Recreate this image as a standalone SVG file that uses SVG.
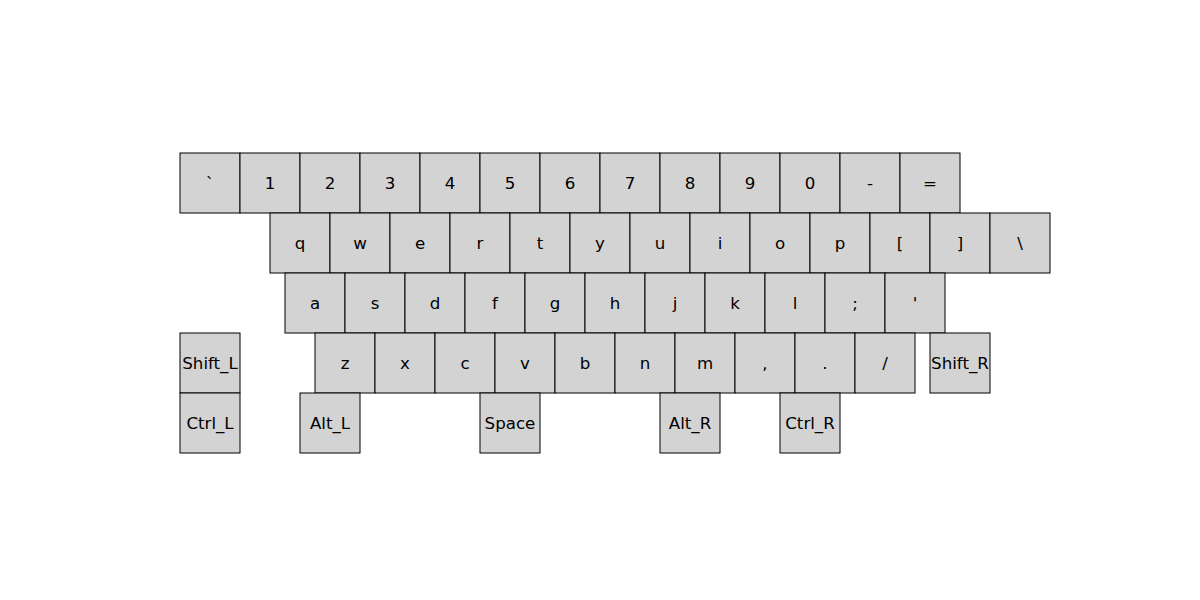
<svg xmlns="http://www.w3.org/2000/svg" width="1200" height="600" viewBox="0 0 1200 600">
<style>
rect{fill:#d3d3d3;stroke:#000;stroke-width:1}
text{font-family:"DejaVu Sans",sans-serif;font-size:16.67px;text-anchor:middle;dominant-baseline:central;fill:#000}
</style>
<rect x="0" y="0" width="1200" height="600" style="fill:#fff;stroke:none"/>
<g id="row1">
<g id="k_grave"><rect x="180" y="153" width="60" height="60"/><text x="210" y="183">`</text></g>
<g id="k_1"><rect x="240" y="153" width="60" height="60"/><text x="270" y="183">1</text></g>
<g id="k_2"><rect x="300" y="153" width="60" height="60"/><text x="330" y="183">2</text></g>
<g id="k_3"><rect x="360" y="153" width="60" height="60"/><text x="390" y="183">3</text></g>
<g id="k_4"><rect x="420" y="153" width="60" height="60"/><text x="450" y="183">4</text></g>
<g id="k_5"><rect x="480" y="153" width="60" height="60"/><text x="510" y="183">5</text></g>
<g id="k_6"><rect x="540" y="153" width="60" height="60"/><text x="570" y="183">6</text></g>
<g id="k_7"><rect x="600" y="153" width="60" height="60"/><text x="630" y="183">7</text></g>
<g id="k_8"><rect x="660" y="153" width="60" height="60"/><text x="690" y="183">8</text></g>
<g id="k_9"><rect x="720" y="153" width="60" height="60"/><text x="750" y="183">9</text></g>
<g id="k_0"><rect x="780" y="153" width="60" height="60"/><text x="810" y="183">0</text></g>
<g id="k_minus"><rect x="840" y="153" width="60" height="60"/><text x="870" y="183">-</text></g>
<g id="k_equal"><rect x="900" y="153" width="60" height="60"/><text x="930" y="183">=</text></g>
</g>
<g id="row2">
<g id="k_q"><rect x="270" y="213" width="60" height="60"/><text x="300" y="243">q</text></g>
<g id="k_w"><rect x="330" y="213" width="60" height="60"/><text x="360" y="243">w</text></g>
<g id="k_e"><rect x="390" y="213" width="60" height="60"/><text x="420" y="243">e</text></g>
<g id="k_r"><rect x="450" y="213" width="60" height="60"/><text x="480" y="243">r</text></g>
<g id="k_t"><rect x="510" y="213" width="60" height="60"/><text x="540" y="243">t</text></g>
<g id="k_y"><rect x="570" y="213" width="60" height="60"/><text x="600" y="243">y</text></g>
<g id="k_u"><rect x="630" y="213" width="60" height="60"/><text x="660" y="243">u</text></g>
<g id="k_i"><rect x="690" y="213" width="60" height="60"/><text x="720" y="243">i</text></g>
<g id="k_o"><rect x="750" y="213" width="60" height="60"/><text x="780" y="243">o</text></g>
<g id="k_p"><rect x="810" y="213" width="60" height="60"/><text x="840" y="243">p</text></g>
<g id="k_lbr"><rect x="870" y="213" width="60" height="60"/><text x="900" y="243">[</text></g>
<g id="k_rbr"><rect x="930" y="213" width="60" height="60"/><text x="960" y="243">]</text></g>
<g id="k_bslash"><rect x="990" y="213" width="60" height="60"/><text x="1020" y="243">\</text></g>
</g>
<g id="row3">
<g id="k_a"><rect x="285" y="273" width="60" height="60"/><text x="315" y="303">a</text></g>
<g id="k_s"><rect x="345" y="273" width="60" height="60"/><text x="375" y="303">s</text></g>
<g id="k_d"><rect x="405" y="273" width="60" height="60"/><text x="435" y="303">d</text></g>
<g id="k_f"><rect x="465" y="273" width="60" height="60"/><text x="495" y="303">f</text></g>
<g id="k_g"><rect x="525" y="273" width="60" height="60"/><text x="555" y="303">g</text></g>
<g id="k_h"><rect x="585" y="273" width="60" height="60"/><text x="615" y="303">h</text></g>
<g id="k_j"><rect x="645" y="273" width="60" height="60"/><text x="675" y="303">j</text></g>
<g id="k_k"><rect x="705" y="273" width="60" height="60"/><text x="735" y="303">k</text></g>
<g id="k_l"><rect x="765" y="273" width="60" height="60"/><text x="795" y="303">l</text></g>
<g id="k_semi"><rect x="825" y="273" width="60" height="60"/><text x="855" y="303">;</text></g>
<g id="k_quote"><rect x="885" y="273" width="60" height="60"/><text x="915" y="303">'</text></g>
</g>
<g id="row4">
<g id="k_shift_l"><rect x="180" y="333" width="60" height="60"/><text x="210" y="363">Shift_L</text></g>
<g id="k_z"><rect x="315" y="333" width="60" height="60"/><text x="345" y="363">z</text></g>
<g id="k_x"><rect x="375" y="333" width="60" height="60"/><text x="405" y="363">x</text></g>
<g id="k_c"><rect x="435" y="333" width="60" height="60"/><text x="465" y="363">c</text></g>
<g id="k_v"><rect x="495" y="333" width="60" height="60"/><text x="525" y="363">v</text></g>
<g id="k_b"><rect x="555" y="333" width="60" height="60"/><text x="585" y="363">b</text></g>
<g id="k_n"><rect x="615" y="333" width="60" height="60"/><text x="645" y="363">n</text></g>
<g id="k_m"><rect x="675" y="333" width="60" height="60"/><text x="705" y="363">m</text></g>
<g id="k_comma"><rect x="735" y="333" width="60" height="60"/><text x="765" y="363">,</text></g>
<g id="k_period"><rect x="795" y="333" width="60" height="60"/><text x="825" y="363">.</text></g>
<g id="k_slash"><rect x="855" y="333" width="60" height="60"/><text x="885" y="363">/</text></g>
<g id="k_shift_r"><rect x="930" y="333" width="60" height="60"/><text x="960" y="363">Shift_R</text></g>
</g>
<g id="row5">
<g id="k_ctrl_l"><rect x="180" y="393" width="60" height="60"/><text x="210" y="423">Ctrl_L</text></g>
<g id="k_alt_l"><rect x="300" y="393" width="60" height="60"/><text x="330" y="423">Alt_L</text></g>
<g id="k_space"><rect x="480" y="393" width="60" height="60"/><text x="510" y="423">Space</text></g>
<g id="k_alt_r"><rect x="660" y="393" width="60" height="60"/><text x="690" y="423">Alt_R</text></g>
<g id="k_ctrl_r"><rect x="780" y="393" width="60" height="60"/><text x="810" y="423">Ctrl_R</text></g>
</g>
<g id="connectors"></g>
</svg>
